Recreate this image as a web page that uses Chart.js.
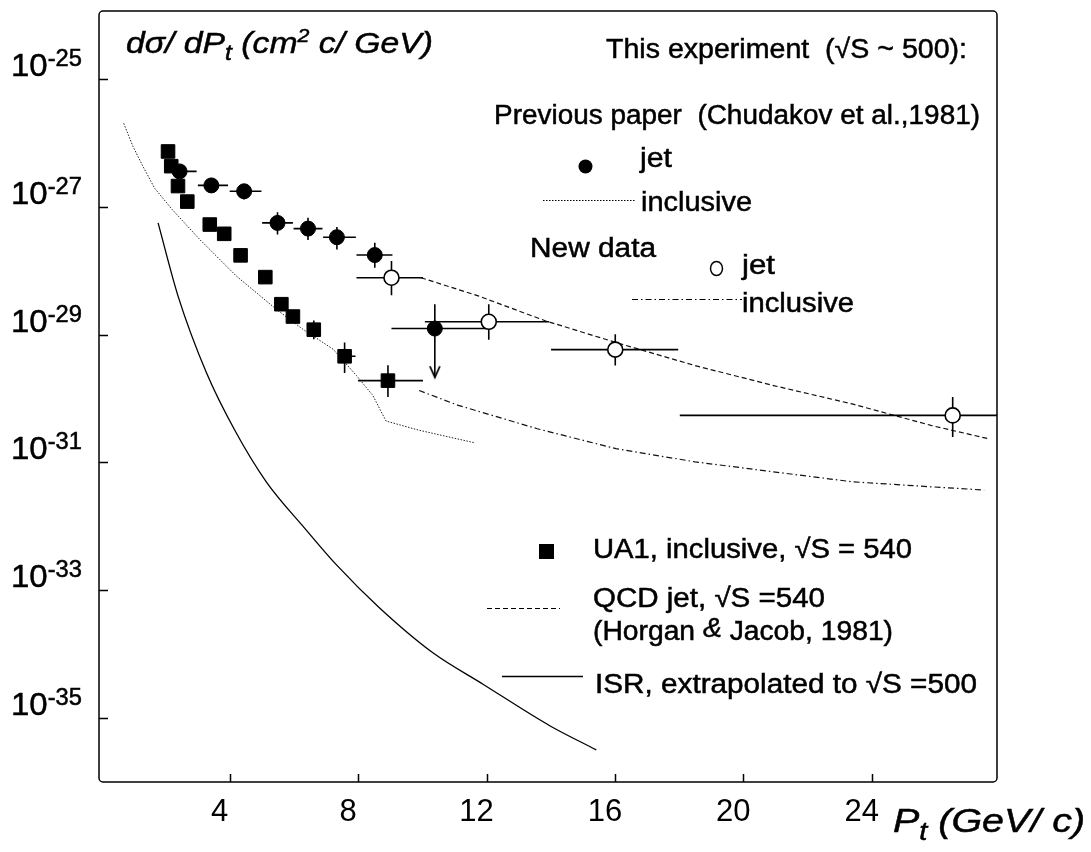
<!DOCTYPE html>
<html>
<head>
<meta charset="utf-8">
<script src="https://cdn.jsdelivr.net/npm/chart.js@4"></script>
<style>
html,body{margin:0;padding:0;background:#fff;}
#c{display:block;}
</style>
</head>
<body>
<canvas id="c" width="1091" height="852"></canvas>
<script>
// ---------- axis ticks ----------
const xTicks = [4, 8, 12, 16, 20, 24];
const yTicks = [1e-25, 1e-27, 1e-29, 1e-31, 1e-33, 1e-35];
const yTickExp = ['-25', '-27', '-29', '-31', '-33', '-35'];

// ---------- UA1 inclusive, sqrt(S)=540 (filled squares) ----------
const ua1X   = [2.08, 2.18, 2.39, 2.68, 3.38, 3.83, 4.34, 5.11, 5.61, 5.97, 6.62, 7.58, 8.93];
const ua1Y   = [7.3e-27, 4.3e-27, 2.1e-27, 1.2e-27, 5.25e-28, 3.76e-28, 1.73e-28, 7.9e-29, 2.98e-29, 1.91e-29, 1.19e-29, 4.56e-30, 1.9e-30];
const ua1XLo = [null, null, null, null, null, null, null, null, null, null, null, 7.42, 8.0];
const ua1XHi = [null, null, null, null, null, null, null, null, null, null, null, 7.92, 10.02];
const ua1YLo = [null, null, null, null, null, null, null, null, null, null, 8.4e-30, 2.5e-30, 1.05e-30];
const ua1YHi = [null, null, null, null, null, null, null, null, null, null, 1.66e-29, 7.5e-30, 3.3e-30];

// ---------- Previous paper, jet (filled circles) ----------
const prevX   = [2.44, 3.43, 4.45, 5.49, 6.44, 7.34, 8.52, 10.39];
const prevY   = [3.56e-27, 2.15e-27, 1.74e-27, 5.57e-28, 4.54e-28, 3.33e-28, 1.75e-28, 1.24e-29];
const prevXLo = [2.22, 3.01, 4.00, 5.01, 5.99, 6.91, 7.95, 9.04];
const prevXHi = [2.97, 3.95, 4.99, 5.97, 6.89, 7.93, 9.07, 11.98];
const prevYLo = [null, 1.63e-27, 1.29e-27, 3.66e-28, 3.0e-28, 2.14e-28, 1.11e-28, 2.15e-30];
const prevYHi = [null, 2.8e-27, 2.2e-27, 8.2e-28, 6.7e-28, 4.8e-28, 2.72e-28, 2.98e-29];
const prevUpperLimit = [false, false, false, false, false, false, false, true];

// ---------- New data, jet (open circles) ----------
const newX   = [9.04, 12.07, 16.01, 26.52];
const newY   = [7.74e-29, 1.58e-29, 5.8e-30, 5.43e-31];
const newXLo = [7.95, 10.08, 14.01, 18.02];
const newXHi = [10.02, 13.95, 17.97, 28.5];
const newYLo = [4.11e-29, 8.3e-30, 3.27e-30, 2.5e-31];
const newYHi = [1.41e-28, 2.98e-29, 1.01e-29, 1.05e-30];

// ---------- curves ----------
const isrX = [1.77, 2.39, 3.27, 4.16, 5.14, 6.34, 7.32, 8.67, 10.33, 11.89, 13.97, 15.42];
const isrY = [5.57e-28, 4.02e-29, 2.57e-30, 3.18e-31, 4.97e-32, 9.3e-33, 2.51e-33, 5.28e-34, 1.05e-34, 3.39e-35, 7.6e-36, 3.18e-36];

const prevIncX = [0.70, 0.99, 1.30, 1.66, 2.22, 3.07, 4.21, 5.45, 6.28, 7.22, 7.95, 8.46, 8.87, 9.90, 11.62];
const prevIncY = [2.01e-26, 8.7e-27, 4.26e-27, 1.95e-27, 8.9e-28, 3.06e-28, 8.2e-29, 2.49e-29, 1.21e-29, 5.9e-30, 2.28e-30, 1.11e-30, 4.43e-31, 3.18e-31, 2.03e-31];

const newIncX = [9.90, 11.12, 13.58, 16.03, 18.49, 20.94, 23.39, 25.84, 27.50];
const newIncY = [1.33e-30, 7.8e-31, 3.36e-31, 1.64e-31, 1.02e-31, 7.1e-32, 4.97e-32, 4.15e-32, 3.69e-32];

const qcdX = [9.96, 11.74, 13.83, 16.03, 18.49, 20.94, 23.39, 25.84, 27.62];
const qcdY = [7.74e-29, 4.02e-29, 1.64e-29, 7.5e-30, 3.27e-30, 1.59e-30, 8.2e-31, 3.79e-31, 2.35e-31];

// ---------- helpers ----------
function pts(xs, ys) { return xs.map((x, i) => ({x: x, y: ys[i]})); }
function errSegs(xs, ys, xlo, xhi, ylo, yhi) {
  const out = [];
  for (let i = 0; i < xs.length; i++) {
    if (xlo[i] != null) out.push({x: xlo[i], y: ys[i]}, {x: xhi[i], y: ys[i]}, {x: NaN, y: NaN});
    if (ylo[i] != null) out.push({x: xs[i], y: ylo[i]}, {x: xs[i], y: yhi[i]}, {x: NaN, y: NaN});
  }
  return out;
}
const limitPts = prevX.map((x, i) => prevUpperLimit[i] ? {x: x, y: prevYLo[i]} : null).filter(p => p);

// arrow head image (tip at the centre)
const arrow = document.createElement('canvas');
arrow.width = 16; arrow.height = 40;
(function () {
  const a = arrow.getContext('2d');
  a.strokeStyle = '#000'; a.lineWidth = 1.8;
  a.beginPath(); a.moveTo(3, 9); a.lineTo(8, 20); a.lineTo(13, 9); a.stroke();
})();

const SANS = '"Liberation Sans", Arial, "DejaVu Sans", sans-serif';

function rich(ctx, parts, left, right, baseline) {
  ctx.save();
  let w = 0;
  parts.forEach(p => { ctx.font = p[1]; w += ctx.measureText(p[0]).width; });
  const sx = right != null ? (right - left) / w : 1;
  ctx.translate(left, baseline);
  ctx.scale(sx, 1);
  ctx.textBaseline = 'alphabetic'; ctx.textAlign = 'left';
  ctx.fillStyle = '#000'; ctx.strokeStyle = '#000'; ctx.lineWidth = 0.5;
  let x = 0;
  parts.forEach(p => {
    ctx.font = p[1];
    ctx.fillText(p[0], x, p[2] || 0);
    ctx.strokeText(p[0], x, p[2] || 0);
    x += ctx.measureText(p[0]).width;
  });
  ctx.restore();
}
function f(size, italic) { return (italic ? 'italic ' : '') + size + 'px ' + SANS; }

const T = 27;
const annotations = [
  {parts: [['This experiment  (\u221AS ~ 500):', f(T)]], l: 606, r: 967, b: 58},
  {parts: [['Previous paper  (Chudakov et al.,1981)', f(T)]], l: 494, r: 980, b: 124},
  {parts: [['jet', f(T)]], l: 640, r: 672, b: 167},
  {parts: [['inclusive', f(T)]], l: 641, r: 752, b: 211},
  {parts: [['New data', f(T)]], l: 530, r: 656, b: 257},
  {parts: [['jet', f(T)]], l: 742, r: 775, b: 274},
  {parts: [['inclusive', f(T)]], l: 742, r: 854, b: 312},
  {parts: [['UA1, inclusive, \u221AS = 540', f(T)]], l: 593, r: 912, b: 558},
  {parts: [['QCD jet, \u221AS =540', f(T)]], l: 593, r: 825, b: 607},
  {parts: [['(Horgan ', f(T)], ['&', f(T, true), -3], [' Jacob, 1981)', f(T)]], l: 593, r: 893, b: 640},
  {parts: [['ISR, extrapolated to \u221AS =500', f(T)]], l: 595, r: 977, b: 693},
  {parts: [['d\u03C3/ dP', f(30, true)], ['t', f(22, true), 7], [' (cm', f(30, true)], ['2', f(19, true), -11], [' c/ GeV)', f(30, true)]], l: 126, r: 433, b: 53},
  {parts: [['P', f(34, true)], ['t', f(25, true), 8], [' (GeV/ c)', f(34, true)]], l: 893, r: 1085, b: 832}
];

const decor = {
  id: 'decor',
  afterDraw(chart) {
    const ctx = chart.ctx, ca = chart.chartArea;
    const xs = chart.scales.x, ys = chart.scales.y;
    ctx.save();
    // frame
    ctx.strokeStyle = '#000'; ctx.lineWidth = 1.5;
    ctx.beginPath();
    if (ctx.roundRect) ctx.roundRect(ca.left, ca.top, ca.right - ca.left, ca.bottom - ca.top, 4);
    else ctx.rect(ca.left, ca.top, ca.right - ca.left, ca.bottom - ca.top);
    ctx.stroke();
    // inward ticks
    ctx.beginPath();
    xTicks.forEach(v => { const p = Math.round(xs.getPixelForValue(v)) + 0.5; ctx.moveTo(p, ca.bottom); ctx.lineTo(p, ca.bottom - 8); });
    yTicks.forEach(v => { const p = Math.round(ys.getPixelForValue(v)) + 0.5; ctx.moveTo(ca.left, p); ctx.lineTo(ca.left + 9, p); });
    ctx.stroke();
    // y tick labels 10^n
    yTicks.forEach((v, i) => {
      const p = ys.getPixelForValue(v);
      rich(ctx, [['10', f(32)], [yTickExp[i], f(23), -10]], 11, 82, p - 3);
    });
    // legend keys
    ctx.fillStyle = '#000';
    ctx.beginPath(); ctx.arc(585.5, 166.5, 7, 0, Math.PI * 2); ctx.fill();
    ctx.lineWidth = 1.5; ctx.fillStyle = '#fff';
    ctx.beginPath(); ctx.ellipse(716.5, 268.5, 6, 7, 0, 0, Math.PI * 2); ctx.fill(); ctx.stroke();
    ctx.fillStyle = '#000';
    ctx.fillRect(539, 544, 15, 15);
    const key = (x1, x2, y, dash, w) => { ctx.save(); ctx.setLineDash(dash); ctx.lineWidth = w; ctx.beginPath(); ctx.moveTo(x1, y); ctx.lineTo(x2, y); ctx.stroke(); ctx.restore(); };
    key(543, 636, 200.5, [1.5, 1.5], 1);
    key(632, 742, 299.5, [6, 3, 1.5, 3], 1.2);
    key(487, 560, 608.5, [5, 3], 1.2);
    key(502, 583, 676.5, [], 1.3);
    // texts
    annotations.forEach(a => rich(ctx, a.parts, a.l, a.r, a.b));
    ctx.restore();
  }
};

new Chart(document.getElementById('c'), {
  type: 'scatter',
  data: {
    datasets: [
      {label: 'Previous paper, jet', data: pts(prevX, prevY), pointStyle: 'circle', pointRadius: 7.5,
       backgroundColor: '#000', borderColor: '#000', borderWidth: 1, order: 0},
      {label: 'New data, jet', data: pts(newX, newY), pointStyle: 'circle', pointRadius: 7.5,
       backgroundColor: '#fff', borderColor: '#000', borderWidth: 1.6, order: 0},
      {label: 'UA1, inclusive', data: pts(ua1X, ua1Y), pointStyle: 'rect', pointRadius: 9.6,
       backgroundColor: '#000', borderColor: '#000', borderWidth: 1, order: 0},
      {label: 'upper limit', data: limitPts, pointStyle: arrow, pointRadius: 10, order: 1},
      {label: 'errors prev', data: errSegs(prevX, prevY, prevXLo, prevXHi, prevYLo, prevYHi), showLine: true,
       pointRadius: 0, borderColor: '#000', borderWidth: 1.6, spanGaps: false, order: 2},
      {label: 'errors new', data: errSegs(newX, newY, newXLo, newXHi, newYLo, newYHi), showLine: true,
       pointRadius: 0, borderColor: '#000', borderWidth: 1.6, spanGaps: false, order: 2},
      {label: 'errors UA1', data: errSegs(ua1X, ua1Y, ua1XLo, ua1XHi, ua1YLo, ua1YHi), showLine: true,
       pointRadius: 0, borderColor: '#000', borderWidth: 1.6, spanGaps: false, order: 2},
      {label: 'ISR, extrapolated', data: pts(isrX, isrY), showLine: true, pointRadius: 0,
       borderColor: '#000', borderWidth: 1.3, cubicInterpolationMode: 'monotone', order: 3},
      {label: 'Previous inclusive', data: pts(prevIncX, prevIncY), showLine: true, pointRadius: 0,
       borderColor: '#222', borderWidth: 1, borderDash: [1.5, 1.5], order: 3},
      {label: 'New inclusive', data: pts(newIncX, newIncY), showLine: true, pointRadius: 0,
       borderColor: '#111', borderWidth: 1.2, borderDash: [6, 3, 1.5, 3], order: 3},
      {label: 'QCD jet', data: pts(qcdX, qcdY), showLine: true, pointRadius: 0,
       borderColor: '#111', borderWidth: 1.2, borderDash: [5, 3], order: 3}
    ]
  },
  options: {
    responsive: false,
    devicePixelRatio: 1,
    animation: false,
    events: [],
    layout: {padding: {left: 0, top: 7, right: 94, bottom: 0}},
    plugins: {legend: {display: false}, tooltip: {enabled: false}},
    scales: {
      x: {
        type: 'linear', min: -0.07, max: 27.9,
        afterBuildTicks: s => { s.ticks = xTicks.map(v => ({value: v})); },
        afterFit: s => { s.height = 70; },
        grid: {display: false, drawTicks: false},
        border: {display: false},
        ticks: {color: '#000', font: {family: SANS, size: 31}, padding: 12, labelOffset: -10, maxRotation: 0, autoSkip: false}
      },
      y: {
        type: 'logarithmic', min: 1e-36, max: 1.15e-24,
        afterBuildTicks: s => { s.ticks = yTicks.map(v => ({value: v})); },
        afterFit: s => { s.width = 99; },
        grid: {display: false, drawTicks: false},
        border: {display: false},
        ticks: {display: false}
      }
    }
  },
  plugins: [decor]
});
</script>
</body>
</html>
